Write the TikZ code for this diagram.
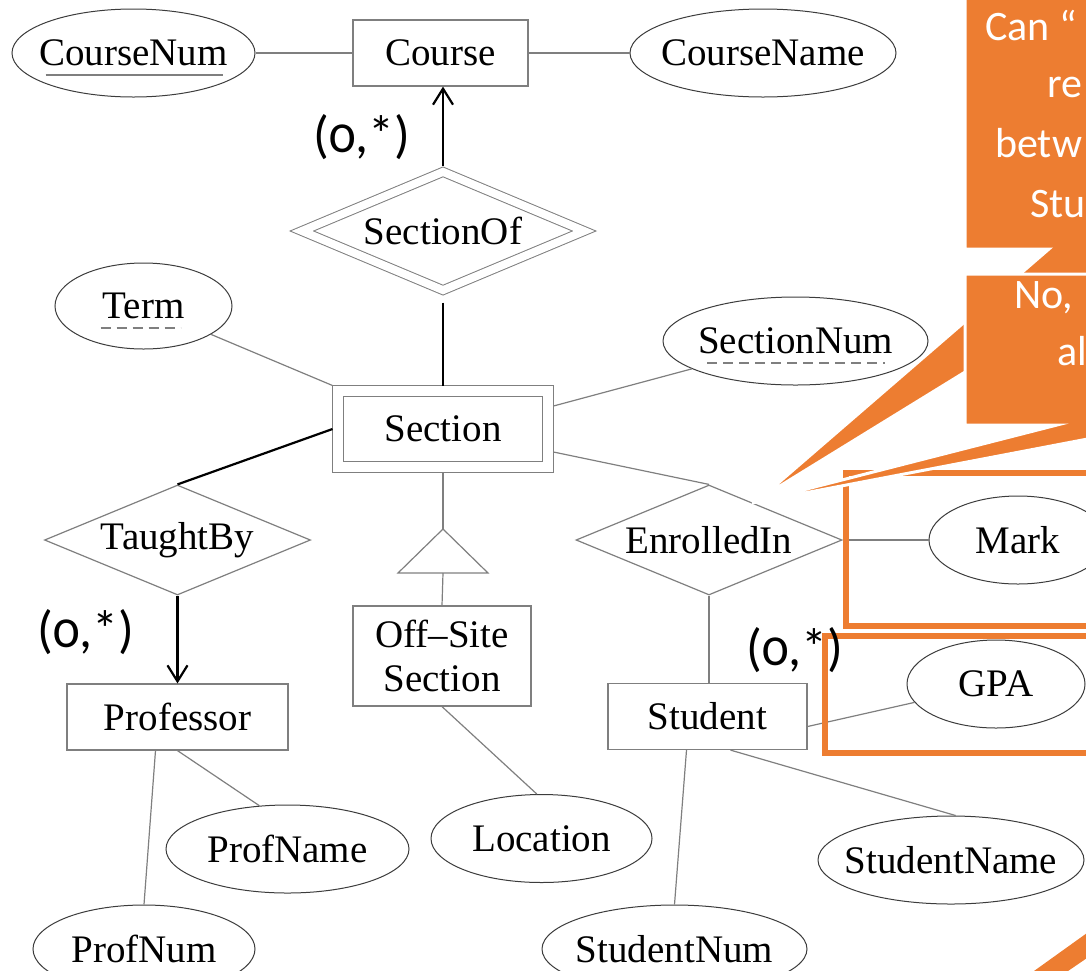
\documentclass[tikz,border=0pt]{standalone}
\usepackage{fontspec}
\setmainfont{Liberation Serif}
\newfontfamily\notefamily{Carlito}[Numbers=OldStyle]
\usetikzlibrary{arrows.meta,shapes.geometric,calc}
\definecolor{ink}{HTML}{000000}
\definecolor{rule}{HTML}{7F7F7F}
\definecolor{oval}{HTML}{3C3C3C}
\definecolor{callout}{HTML}{ED7D31}
\newcommand\erfont{\fontsize{39}{44}\selectfont}
\newcommand\cardfont{\notefamily\fontsize{52}{56}\selectfont}
\newcommand\notefont{\notefamily\fontsize{42}{59}\selectfont}
\tikzset{
  entity/.style={draw=rule,line width=1.2pt,fill=white,minimum height=66pt,inner sep=0pt,font=\erfont},
  weakentity/.style={entity,line width=1pt,double=white,double distance=10pt,outer sep=5.5pt},
  rel/.style={diamond,aspect=2.4,draw=rule,line width=1.2pt,fill=white,minimum width=266pt,minimum height=110pt,inner sep=0pt,font=\erfont},
  weakrel/.style={rel,aspect=2.34,line width=1pt,double=white,double distance=8pt,minimum width=286pt,minimum height=122pt,outer sep=4.5pt},
  % the ellipse size comes from minimum width/height only, the name sits on a zero-width box
  attr/.style={ellipse,draw=oval,line width=1pt,fill=white,minimum height=88pt,inner sep=0pt,font=\erfont,
    execute at begin node={\hbox to 0pt\bgroup\hss},execute at end node={\hss\egroup}},
  link/.style={draw=rule,line width=1.2pt},
  total/.style={draw=ink,line width=2.2pt},
  onearrow/.style={total,-{Straight Barb[length=16pt,width=20pt]}},
  keyline/.style={draw=rule,line width=1.2pt},
  partkey/.style={keyline,dash pattern=on 10pt off 6pt},
  cardlabel/.style={font=\cardfont,text=ink,inner sep=0pt},
  hl/.style={draw=callout,line width=6.5pt},
  note/.style={fill=callout,draw=white,line width=3pt},
  notetext/.style={font=\notefont,text=white,inner sep=0pt,anchor=base west},
}
\begin{document}
\begin{tikzpicture}[x=1pt,y=-1pt]
  \useasboundingbox (0,0) rectangle (1086,970);
  \clip (0,0) rectangle (1086,970);

  % entities
  \node[entity,minimum width=175pt] (course) at (440.5,53) {Course};
  \node[weakentity,minimum width=210pt,minimum height=76pt] (section) at (443,429) {Section};
  \node[entity,minimum width=221pt] (prof) at (177.5,717) {Professor};
  \node[entity,minimum width=178pt,minimum height=100pt,align=center] (offsite) at (442,656) {Off–Site\\Section};
  \node[entity,minimum width=199pt] (student) at (707.5,716.5) {Student};

  % relationships
  \node[weakrel] (secof) at (443,231) {SectionOf};
  \node[rel] (taught) at (177.5,540) {TaughtBy};
  \node[rel] (enrol) at (709,540) {EnrolledIn};

  % attributes
  \node[attr,minimum width=243pt] (cnum) at (133.5,53) {CourseNum};
  \node[attr,minimum width=266pt] (cname) at (763,53) {CourseName};
  \node[attr,minimum width=177pt,minimum height=86pt] (term) at (143.5,306) {Term};
  \node[attr,minimum width=265pt] (secnum) at (795.5,341) {SectionNum};
  \node[attr,minimum width=178pt] (mark) at (1018,540) {Mark};
  \node[attr,minimum width=178pt] (gpa) at (996,684) {GPA};
  \node[attr,minimum width=243pt] (pname) at (287.5,849) {ProfName};
  \node[attr,minimum width=222pt] (pnum) at (144,949) {ProfNum};
  \node[attr,minimum width=221pt] (loc) at (541.5,838.5) {Location};
  \node[attr,minimum width=265pt] (snum) at (674.5,949) {StudentNum};
  \node[attr,minimum width=266pt] (sname) at (951,860) {StudentName};

  % keys
  \draw[keyline] ($(cnum)+(-88,22)$) -- ++(177,0);
  \draw[partkey] ($(term)+(-43,22)$) -- ++(80,0);
  \draw[partkey] ($(secnum)+(-88.5,22)$) -- ++(178,0);

  % ISA triangle
  \coordinate (isatop) at (443,529);
  \coordinate (isabase) at (443,573);
  \draw[link,line join=miter] (isatop) -- ++(-45,44) -- ++(90,0) -- cycle;

  % connectors
  \draw[link] (cnum) -- (course);
  \draw[link] (course) -- (cname);
  \draw[onearrow] (secof.north) -- (secof.north |- course.south);
  \draw[total,shorten <=6pt] (secof.south) -- (section.north);
  \draw[link] (term) -- (section.north west);
  \draw[link] ([yshift=23pt]section.east) -- (secnum);
  \draw[link] ([yshift=-23pt]section.east) -- (enrol.north);
  \draw[total] (section.west) -- (taught.north);
  \draw[link] (section.south) -- (isatop);
  \draw[link] (isabase) -- (offsite.north);
  \draw[link] (offsite.south) -- (loc.96);
  \draw[onearrow] (taught.south) -- (prof.north);
  \draw[link] ([xshift=-22pt]prof.south) -- (pnum.north);
  \draw[link] (prof.south) -- (pname.123);
  \draw[link] (enrol.south) -- (enrol.south |- student.north);
  \draw[link] (enrol.east) -- (mark);
  \draw[link] ([yshift=-10pt]student.east) -- (gpa);
  \draw[link] ([xshift=-21pt]student.south) -- (snum.north);
  \draw[link] ([xshift=23pt]student.south) -- (sname.84);

  % highlighted attributes
  \draw[hl] (846,473) rectangle (1120,626);
  \draw[hl] (825,636) rectangle (1120,753);

  % cardinalities
  \node[cardlabel] (card1) at (362,137) {(0,*)};
  \node[cardlabel] (card2) at (86,632) {(0,*)};
  \node[cardlabel] (card3) at (795,650) {(0,*)};

  % speech bubbles
  \path[note] (965,-10) -- (965,249) -- (1049,249) -- (762,497) -- (1165,249) -- (1200,249) -- (1200,-10) -- cycle;
  \path[note] (965,274) -- (965,425) -- (1057,425) -- (752,503) -- (1161,425) -- (1200,425) -- (1200,274) -- cycle;
  \node[notetext] (q1) at (985,40) {Can “};
  \node[notetext] (q2) at (1047,97) {re};
  \node[notetext] (q3) at (995,157) {betw};
  \node[notetext] (q4) at (1030,217) {Stu};
  \node[notetext] (a1) at (1014,308) {No,};
  \node[notetext] (a2) at (1057,365) {al};
  \path[fill=callout] (1034,971) -- (1087,933) -- (1087,958) -- (1068,971) -- cycle;
\end{tikzpicture}
\end{document}
